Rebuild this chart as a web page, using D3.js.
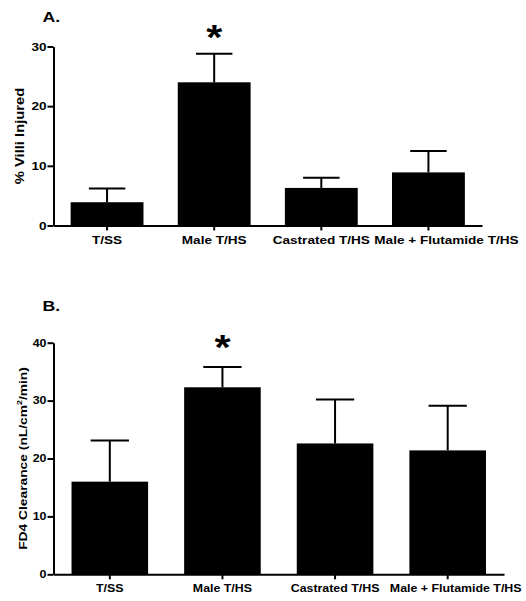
<!DOCTYPE html>
<html>
<head>
<meta charset="utf-8">
<script src="https://cdn.jsdelivr.net/npm/d3@7"></script>
<style>
  html, body { margin: 0; padding: 0; background: #fff; }
  svg { display: block; }
  text { font-family: "Liberation Sans", Arial, Helvetica, sans-serif; font-weight: bold; fill: #000; }
</style>
</head>
<body>
<svg id="chart" width="526" height="601"></svg>
<script>
// ---- Data ----
const categories = ["T/SS", "Male T/HS", "Castrated T/HS", "Male + Flutamide T/HS"];

// Panel A: % Villi Injured
const villiMean = [3.9, 24.0, 6.3, 8.9];
const villiErr  = [2.3, 4.8, 1.7, 3.6];
const villiTicks = [0, 10, 20, 30];
const villiSig = [false, true, false, false];

// Panel B: FD4 Clearance
const fd4Mean = [16.0, 32.3, 22.6, 21.4];
const fd4Err  = [7.1, 3.5, 7.6, 7.7];
const fd4Ticks = [0, 10, 20, 30, 40];
const fd4Sig = [false, true, false, false];

// ---- Drawing ----
const svg = d3.select("#chart");
const SX = 1.18; // horizontal stretch of the original typeface

function panel(cfg) {
  const g = svg.append("g");
  const x = d3.scaleBand().domain(categories).range([cfg.left, cfg.right])
    .paddingInner(0.32).paddingOuter(0.16);
  const y = d3.scaleLinear().domain([0, d3.max(cfg.ticks)]).range([cfg.bottom, cfg.top]);

  const rows = categories.map((c, i) => ({ c, m: cfg.mean[i], e: cfg.err[i], s: cfg.sig[i] }));

  // bars
  g.selectAll("rect.bar").data(rows).join("rect")
    .attr("class", "bar")
    .attr("x", d => x(d.c))
    .attr("width", x.bandwidth())
    .attr("y", d => y(d.m))
    .attr("height", d => y(0) - y(d.m))
    .attr("fill", "#000");

  // error bars (upper only)
  const eb = g.selectAll("g.eb").data(rows).join("g").attr("class", "eb");
  eb.append("line")
    .attr("x1", d => x(d.c) + x.bandwidth() / 2)
    .attr("x2", d => x(d.c) + x.bandwidth() / 2)
    .attr("y1", d => y(d.m))
    .attr("y2", d => y(d.m + d.e))
    .attr("stroke", "#000").attr("stroke-width", 2);
  eb.append("line")
    .attr("x1", d => x(d.c) + x.bandwidth() / 4)
    .attr("x2", d => x(d.c) + x.bandwidth() * 3 / 4)
    .attr("y1", d => y(d.m + d.e))
    .attr("y2", d => y(d.m + d.e))
    .attr("stroke", "#000").attr("stroke-width", 2);

  // significance stars
  g.selectAll("text.star").data(rows.filter(d => d.s)).join("text")
    .attr("class", "star")
    .attr("text-anchor", "middle")
    .attr("font-size", 35)
    .attr("transform", d => `translate(${x(d.c) + x.bandwidth() / 2},${y(d.m + d.e) - cfg.starGap}) scale(${SX},1)`)
    .text("*");

  // y axis
  const ya = g.append("g").attr("transform", `translate(${cfg.left},0)`)
    .call(d3.axisLeft(y).tickValues(cfg.ticks).tickSize(6).tickSizeOuter(0).tickPadding(1));
  ya.select(".domain").attr("stroke", "#000").attr("stroke-width", 2);
  ya.selectAll(".tick line").attr("stroke", "#000").attr("stroke-width", 2);
  ya.selectAll(".tick text")
    .attr("font-size", cfg.tickFont).attr("font-family", null)
    .attr("x", null)
    .attr("transform", `translate(-7,0) scale(${SX},1)`);

  // x axis
  const xa = g.append("g").attr("transform", `translate(0,${cfg.bottom})`)
    .call(d3.axisBottom(x).tickSize(5).tickSizeOuter(0).tickPadding(5));
  xa.select(".domain").attr("stroke", "#000").attr("stroke-width", 2);
  xa.selectAll(".tick line").attr("stroke", "#000").attr("stroke-width", 2);
  xa.selectAll(".tick text")
    .attr("font-size", cfg.catFont).attr("font-family", null)
    .attr("transform", (d, i) => `translate(${i === categories.length - 1 ? cfg.lastDx : 0},0) scale(${SX},1)`);

  // y label
  const yl = g.append("text")
    .attr("text-anchor", "middle")
    .attr("font-size", cfg.ylabFont)
    .attr("transform", `translate(${cfg.ylabX},${(cfg.top + cfg.bottom) / 2}) rotate(-90) scale(${SX},1)`);
  cfg.ylabel(yl);

  // panel letter
  g.append("text")
    .attr("font-size", 15)
    .attr("transform", `translate(${cfg.left - 11},${cfg.titleY}) scale(${SX},1)`)
    .text(cfg.title);
}

panel({
  left: 53.5, right: 482, top: 46.5, bottom: 225.5,
  mean: villiMean, err: villiErr, ticks: villiTicks, sig: villiSig,
  starGap: 5, ylabX: 23.5, titleY: 21.5, title: "A.",
  tickFont: 11.5, catFont: 11.5, ylabFont: 12.5, lastDx: 18,
  ylabel: t => t.text("% Villi Injured")
});

panel({
  left: 53.5, right: 504, top: 342.7, bottom: 574.3,
  mean: fd4Mean, err: fd4Err, ticks: fd4Ticks, sig: fd4Sig,
  starGap: 8, ylabX: 27, titleY: 311, title: "B.",
  tickFont: 10.5, catFont: 10.5, ylabFont: 11.7, lastDx: 8,
  ylabel: t => {
    t.append("tspan").text("FD4 Clearance (nL/cm");
    t.append("tspan").attr("font-size", 7.5).attr("dy", -5).text("2");
    t.append("tspan").attr("dy", 5).text("/min)");
  }
});
</script>
</body>
</html>
